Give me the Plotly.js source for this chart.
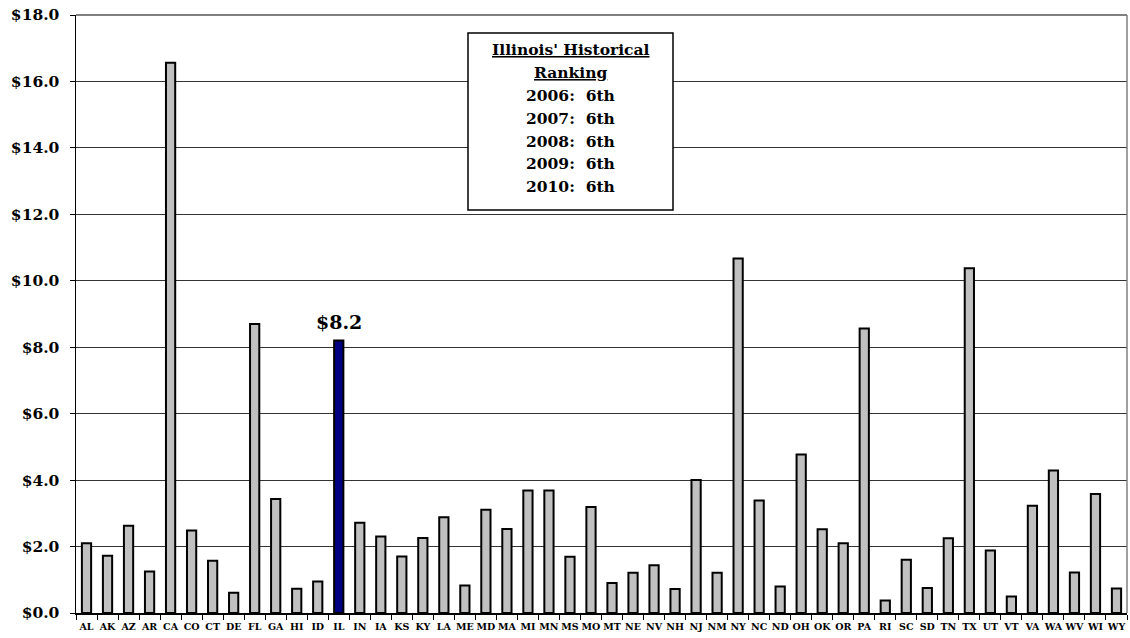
<!DOCTYPE html>
<html>
<head>
<meta charset="utf-8">
<script src="https://cdn.plot.ly/plotly-3.0.1.min.js"></script>
<style>html,body{margin:0;padding:0;background:#fff;}#chart{width:1130px;height:638px;}</style>
</head>
<body>
<div id="chart"></div>
<script>
var states = ["AL","AK","AZ","AR","CA","CO","CT","DE","FL","GA","HI","ID","IL","IN","IA","KS","KY","LA","ME","MD","MA","MI","MN","MS","MO","MT","NE","NV","NH","NJ","NM","NY","NC","ND","OH","OK","OR","PA","RI","SC","SD","TN","TX","UT","VT","VA","WA","WV","WI","WY"];
var values = [2.10,1.72,2.63,1.25,16.56,2.48,1.57,0.61,8.70,3.43,0.73,0.95,8.2,2.72,2.30,1.70,2.26,2.88,0.83,3.11,2.53,3.69,3.69,1.69,3.19,0.90,1.21,1.44,0.72,4.00,1.21,10.67,3.39,0.80,4.77,2.52,2.10,8.56,0.38,1.60,0.75,2.25,10.38,1.88,0.50,3.23,4.29,1.22,3.58,0.74];
var highlight = "IL";
var highlightLabel = "$8.2";
var boxLines = ["<u>Illinois' Historical</u>","<u>Ranking</u>","2006:  6th","2007:  6th","2008:  6th","2009:  6th","2010:  6th"];

var serif = "DejaVu Serif, Liberation Serif, serif";
var colors = states.map(function(s){ return s === highlight ? "#000080" : "#C0C0C0"; });

var trace = {
  type: "bar",
  x: states,
  y: values,
  marker: {color: colors, line: {color: "#000000", width: 2}},
  hoverinfo: "x+y"
};

// plot area in pixels: left 76, right 1127, top 15, bottom 613
function py(yPix){ return (613 - yPix) / 598; }
function px(xPix){ return (xPix - 76) / 1051; }

var annotations = [];
annotations.push({
  x: highlight, y: values[states.indexOf(highlight)], xref: "x", yref: "y",
  text: "<b>" + highlightLabel + "</b>", showarrow: false, yanchor: "bottom", yshift: 6,
  font: {family: serif, size: 19, color: "#000"}
});
boxLines.forEach(function(t, i){
  annotations.push({
    x: px(570.5), y: py(50 + 22.8 * i), xref: "paper", yref: "paper",
    text: "<b>" + t + "</b>", showarrow: false, xanchor: "center", yanchor: "middle",
    font: {family: serif, size: 15.5, color: "#000"}
  });
});

var layout = {
  width: 1130, height: 638,
  margin: {l: 76, r: 3, t: 15, b: 25, pad: 0},
  paper_bgcolor: "#ffffff", plot_bgcolor: "#ffffff",
  showlegend: false,
  bargap: 0.56,
  xaxis: {
    type: "category",
    tickson: "boundaries",
    ticks: "outside", ticklen: 5, tickcolor: "#000", tickwidth: 1,
    showline: true, linecolor: "#000", linewidth: 1.5,
    showgrid: false,
    tickangle: 0,
    ticklabelstandoff: 4,
    tickfont: {family: serif, size: 9.5, color: "#000", weight: "bold"},
    fixedrange: true
  },
  yaxis: {
    range: [0, 18], dtick: 2, tick0: 0,
    tickprefix: "$", tickformat: ".1f",
    ticks: "outside", ticklen: 5, tickcolor: "#000", tickwidth: 1,
    showline: true, linecolor: "#000", linewidth: 1.5,
    showgrid: true, gridcolor: "#333333", gridwidth: 1.2,
    zeroline: false,
    ticklabelstandoff: 7,
    tickfont: {family: serif, size: 15.5, color: "#000", weight: "bold"},
    fixedrange: true
  },
  shapes: [
    {type: "line", xref: "paper", yref: "paper", x0: 0, x1: 1, y0: 1, y1: 1, line: {color: "#808080", width: 2}},
    {type: "line", xref: "paper", yref: "paper", x0: 1, x1: 1, y0: 0, y1: 1, line: {color: "#808080", width: 1.5}},
    {type: "rect", xref: "paper", yref: "paper", x0: px(468), x1: px(673), y0: py(210), y1: py(33),
     line: {color: "#000", width: 1.5}, fillcolor: "#ffffff", layer: "above"}
  ],
  annotations: annotations
};

Plotly.newPlot("chart", [trace], layout, {displayModeBar: false, staticPlot: true});
</script>
</body>
</html>
